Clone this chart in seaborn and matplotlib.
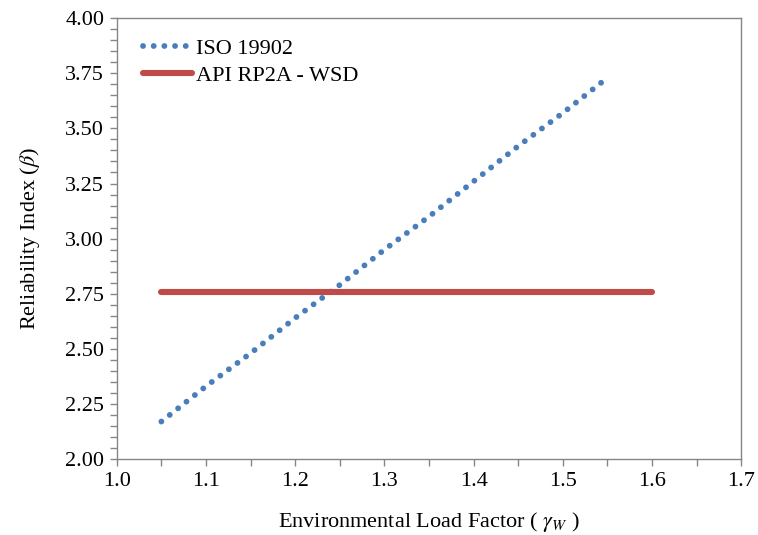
import numpy as np
import pandas as pd
import matplotlib
matplotlib.use("Agg")
import matplotlib.pyplot as plt
import seaborn as sns
from matplotlib.ticker import MultipleLocator

# values
iso_gamma = [1.05, 1.10, 1.15, 1.20, 1.25, 1.30, 1.35, 1.40, 1.45, 1.50, 1.55]
iso_beta = [2.17, 2.33, 2.48, 2.64, 2.79, 2.95, 3.10, 3.26, 3.42, 3.57, 3.73]
api_gamma = [1.05, 1.60]
api_beta = [2.76, 2.76]

iso_df = pd.DataFrame({"gamma": iso_gamma, "beta": iso_beta})
api_df = pd.DataFrame({"gamma": api_gamma, "beta": api_beta})

sns.set_style("white")
plt.rcParams["font.family"] = ["Liberation Serif", "DejaVu Serif"]
plt.rcParams["mathtext.fontset"] = "stix"
plt.rcParams["text.color"] = "black"
plt.rcParams["axes.labelcolor"] = "black"

fig, ax = plt.subplots(figsize=(7.58, 5.35), dpi=100)

sns.lineplot(data=iso_df, x="gamma", y="beta", ax=ax, color="#4a7ebb",
             linewidth=4.2, linestyle=(0, (0.01, 1.82)), solid_capstyle="round",
             dash_capstyle="round", label="ISO 19902")
sns.lineplot(data=api_df, x="gamma", y="beta", ax=ax, color="#be4b48",
             linewidth=4.4, solid_capstyle="round", label="API RP2A - WSD")

ax.set_xlim(1.0, 1.7)
ax.set_ylim(2.0, 4.0)
ax.xaxis.set_major_locator(MultipleLocator(0.1))
ax.xaxis.set_minor_locator(MultipleLocator(0.05))
ax.yaxis.set_major_locator(MultipleLocator(0.25))
ax.yaxis.set_minor_locator(MultipleLocator(0.05))
ax.xaxis.set_major_formatter(matplotlib.ticker.FormatStrFormatter("%.1f"))
ax.yaxis.set_major_formatter(matplotlib.ticker.FormatStrFormatter("%.2f"))

ax.tick_params(which="both", direction="out", length=5, width=1, color="#868686",
               labelsize=16, labelcolor="black", bottom=True, left=True, pad=4)
for s in ax.spines.values():
    s.set_color("#868686")
    s.set_linewidth(1)

ax.set_xlabel(r"Environmental Load Factor ( $\gamma_W$ )", fontsize=16, labelpad=14)
ax.set_ylabel(r"Reliability Index ($\beta$)", fontsize=16, labelpad=17)

leg = ax.legend(loc="upper left", bbox_to_anchor=(0.01, 1.0), frameon=False,
                fontsize=16, handlelength=2.2, handletextpad=0.2, labelspacing=0.3)

fig.subplots_adjust(left=0.154, right=0.978, top=0.966, bottom=0.142)
fig.savefig("out.png", dpi=100)
